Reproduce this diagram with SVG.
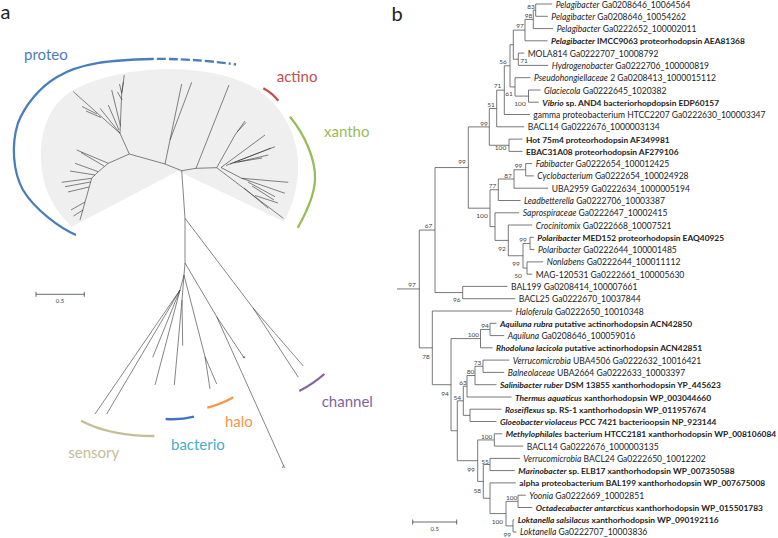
<svg xmlns="http://www.w3.org/2000/svg" width="778" height="538" viewBox="0 0 778 538">
<style>
.pl{font-family:Lato,"Liberation Sans",sans-serif;font-size:20px;fill:#222}
.lf{font-family:Lato,"Liberation Sans",sans-serif;font-size:8.55px;fill:#222}
.b{font-weight:bold;font-size:8.4px}
.i{font-style:italic}
.bs{font-family:Lato,"Liberation Sans",sans-serif;font-size:6.5px;fill:#444;text-anchor:middle}
.tr{fill:none;stroke:#555;stroke-width:0.8}
.at{fill:none;stroke:#333;stroke-width:0.6}
.arc{fill:none;stroke-width:2.3;stroke-linecap:butt}
.cl{font-family:Lato,"Liberation Sans",sans-serif;font-size:15px}
.sc{fill:none;stroke:#444;stroke-width:0.8}
.st{font-family:Lato,"Liberation Sans",sans-serif;font-size:6px;fill:#444;text-anchor:middle}
</style>
<rect width="778" height="538" fill="#fff"/>
<text class="pl" x="0.5" y="18.5">a</text>
<text class="pl" x="391.5" y="20.5">b</text>

<!-- Panel a -->
<g id="panel-a">
<path id="wedge" d="M71.7 226.7 L178 171 L284 221.5 C293 205 299 185 298 160 C296 130 280 105 258 90 C235 75 200 69 166 69 C130 70 95 77 70 92 C50 105 40 130 41 160 C42 190 55 210 71.7 226.7 Z" fill="#efefef"/>
<g id="a-connectors" class="at">
<path d="M181.7 170.7 L165 164 L129.3 154 M165 164 L181.7 84 M170 140 L191.7 82.3 M181.7 170.7 L196 168.3 L216.7 167.7 M196 168.3 L229 85 M181.7 170.7 L185 218.3 L185 263 L184 275 M185 218.3 L253.3 308.3 L303.3 366 M253.3 308.3 L298.3 377.3"/>
<path d="M129.3 154 L120 133.3 M120 133.3 L121.7 93.3 L124.3 75 M121.7 93.3 L119.5 84 M121.7 93.3 L123.5 82 M122 100 L117.5 92 M120 133.3 L73.3 91.7 M97 114 L82 106.5 M101 117.5 L86 111 M120 133.3 L100 108.3 M119 130 L108.3 105 M120.5 126 L111.7 90"/>
<path d="M129.3 154 L108.3 163.3 L98.3 171.7 L91.7 178.3 L80 220 M108.3 163.3 L76.7 150 M104 166 L81 152.5 M98.3 171.7 L75 163.3 M95 175 L70 171 M91.7 178.3 L61.7 182.3 M90.5 182 L65 186.7 M89 187 L68 192 M85 202 L71 210 M83 210 L73.5 216"/>
<path d="M216.7 167.7 L235 135 L245 121 M237 132 L246 122.5 M221 167.5 L265 135 M226 165.5 L275 146.7 M230 164 L271 148 M234 163 L268.3 155 M238 162 L262 158 M221 167.5 L241.7 178.3 L288.3 182.3 M241.7 178.3 L285 193.3 M248 182 L275 196.7 M252 186 L274 200 M216.7 167.7 L283.3 218.3 M244 188 L268.3 208.3 M255 195.5 L278 203"/>
<path d="M185 263 L216.7 316.7 L243.3 356.7 M216.7 316.7 L283.3 465 M184 275 L180 290 L95 414 M180 290 L106.7 414 M180 290 L152.7 357.3 M180 290 L155 385 M184 275 L182 300 L182.7 345.7 M182 300 L174.3 385 M184 275 L205 356.7 L210 389 M205 356.7 L216.7 384"/>
</g>
<text x="244" y="362" style="font-family:Lato,sans-serif;font-size:8px;fill:#333" text-anchor="middle">*</text>
<text x="283.5" y="471" style="font-family:Lato,sans-serif;font-size:7px;fill:#333" text-anchor="middle">^</text>
<g id="proteo">
<path class="arc" stroke="#4a7ebb" d="M76 235 C60 228 35 210 23 190 C13 172 11 145 18 123 C25 105 40 87 57 77 C80 63 110 60 152 59"/>
<path class="arc" stroke="#4a7ebb" stroke-dasharray="2 3 9 3 9 3 9 3 9 3 9 3 9 3" d="M152 59 C175 58.5 205 60 236 64.5"/>
<text class="cl" x="24" y="60" fill="#4a7ebb">proteo</text>
</g>
<g id="actino">
<path class="arc" stroke="#c0504d" d="M263.3 88.3 Q272 93 278.3 100.7"/>
<text class="cl" x="276.7" y="81.7" fill="#c0504d">actino</text>
</g>
<g id="xantho">
<path class="arc" stroke="#9bbb59" d="M290 116.7 C305 135 316 160 315 180 C314 198 305 215 297.7 227.7"/>
<text class="cl" x="324" y="136.5" fill="#9bbb59">xantho</text>
</g>
<g id="channel">
<path class="arc" stroke="#8064a2" d="M299.3 391 Q313 384 324.3 374"/>
<text class="cl" x="321.7" y="406.5" fill="#8064a2">channel</text>
</g>
<g id="halo">
<path class="arc" stroke="#f79646" d="M207.3 407.7 Q222 404 233.3 397.3"/>
<text class="cl" x="225" y="426.5" fill="#f79646">halo</text>
</g>
<g id="bacterio">
<path class="arc" stroke="#4472c4" d="M165.7 419 Q181 420 194 416.7"/>
<text class="cl" x="171" y="449.5" fill="#4bacc6">bacterio</text>
</g>
<g id="sensory">
<path class="arc" stroke="#c4bd97" d="M81 420.7 Q110 436 154.3 436"/>
<text class="cl" x="68.3" y="457.5" fill="#c4bd97">sensory</text>
</g>
<g id="scale-a">
<path class="sc" d="M36 294.3 H84.3 M36 291.8 V296.8 M84.3 291.8 V296.8"/>
<text class="st" x="60" y="303">0.5</text>
</g>
</g>

<!-- Panel b -->
<g id="b-connectors" class="tr">
<path d="M535.7 4V16.3 M533.3 10.15V28.6 M525 19.4V40.8 M518.3 53.1V65.4 M513.3 30.1V59.25 M528.5 90V102.2 M515 77.7V96.1 M510 44.7V86.9 M504.3 65.8V114.5 M496.7 90.15V126.8 M509 139.1V151.4 M489.3 108.5V145.25 M525.7 163.6V175.9 M514 169.75V188.2 M498.3 179V200.5 M530 237.3V249.6 M527 261.9V274.2 M523 243.45V268.05 M508.3 225V255.75 M495 212.8V240.4 M490 189.75V226.6 M468.3 126.9V208.2 M462.7 286.4V298.7 M435 167.55V292.55 M490 323.3V335.6 M480.5 329.45V347.8 M483 360.1V372.4 M475 366.25V384.7 M467 375.5V397 M470 409.2V421.5 M463.3 386.25V415.35 M494.3 433.8V446.1 M490 458.4V470.6 M518 495.2V507.5 M513 519.8V532 M506 501.35V525.9 M490 482.9V513.6 M483.3 464.5V498.25 M477.7 439.95V481.4 M457.3 400.8V460.7 M451 338.6V430.75 M432.3 311V384.7 M419.3 230.05V347.85"/>
<path d="M535.7 4H552.2 M535.7 16.3H547.8 M533.3 28.6H553.2 M525 40.8H547.5 M518.3 53.1H524.2 M518.3 65.4H548.2 M515 77.7H530.5 M528.5 90H540.5 M528.5 102.2H538.8 M504.3 114.5H529.8 M496.7 126.8H524.2 M509 139.1H522.5 M509 151.4H522.5 M525.7 163.6H532.2 M525.7 175.9H533.8 M514 188.2H548.2 M498.3 200.5H520.5 M495 212.8H519.2 M508.3 225H532.2 M530 237.3H533.8 M530 249.6H534.5 M527 261.9H543.2 M527 274.2H532.2 M462.7 286.4H507.5 M462.7 298.7H515.2 M432.3 311H512.2 M490 323.3H496.5 M490 335.6H504.2 M480.5 347.8H492.5 M483 360.1H509.2 M483 372.4H504.2 M475 384.7H496.5 M467 397H511.5 M470 409.2H501.5 M470 421.5H496.5 M494.3 433.8H502.2 M494.3 446.1H523.2 M490 458.4H519.8 M490 470.6H514.8 M490 482.9H515.8 M518 495.2H525.8 M518 507.5H532.2 M513 519.8H514.2 M513 532H516.5"/>
<path d="M533.3 10.15H535.7 M525 19.4H533.3 M513.3 30.1H525 M513.3 59.25H518.3 M510 44.7H513.3 M510 86.9H515 M515 96.1H528.5 M504.3 65.8H510 M496.7 90.15H504.3 M489.3 108.5H496.7 M489.3 145.25H509 M468.3 126.9H489.3 M514 169.75H525.7 M498.3 179H514 M490 189.75H498.3 M523 243.45H530 M523 268.05H527 M508.3 255.75H523 M495 240.4H508.3 M490 226.6H495 M468.3 208.2H490 M435 167.55H468.3 M435 292.55H462.7 M419.3 230.05H435 M480.5 329.45H490 M451 338.6H480.5 M475 366.25H483 M467 375.5H475 M463.3 386.25H467 M463.3 415.35H470 M457.3 400.8H463.3 M477.7 439.95H494.3 M483.3 464.5H490 M506 501.35H518 M506 525.9H513 M490 513.6H506 M483.3 498.25H490 M477.7 481.4H483.3 M457.3 460.7H477.7 M451 430.75H457.3 M432.3 384.7H451 M419.3 347.85H432.3 M397 288.95H419.3"/>
</g>

<g id="bootstrap">
<text class="bs" x="531" y="8.8">83</text>
<text class="bs" x="528.5" y="17.8">98</text>
<text class="bs" x="520" y="28.3">97</text>
<text class="bs" x="524" y="63.3">71</text>
<text class="bs" x="503" y="64.3">56</text>
<text class="bs" x="497.5" y="88.3">71</text>
<text class="bs" x="509" y="95.8">61</text>
<text class="bs" x="520" y="105.8">100</text>
<text class="bs" x="491" y="107.3">51</text>
<text class="bs" x="484" y="125.6">99</text>
<text class="bs" x="500.5" y="149.8">100</text>
<text class="bs" x="462" y="164.3">99</text>
<text class="bs" x="518.5" y="168.3">99</text>
<text class="bs" x="508" y="178.3">87</text>
<text class="bs" x="492.5" y="188.3">77</text>
<text class="bs" x="482" y="218.3">100</text>
<text class="bs" x="523" y="242.3">99</text>
<text class="bs" x="502" y="251.3">92</text>
<text class="bs" x="516" y="265.8">99</text>
<text class="bs" x="518" y="278.3">50</text>
<text class="bs" x="456.7" y="302.3">96</text>
<text class="bs" x="428.5" y="228.3">67</text>
<text class="bs" x="412" y="287.3">97</text>
<text class="bs" x="426" y="358.8">78</text>
<text class="bs" x="485" y="328.3">94</text>
<text class="bs" x="473.3" y="337.3">100</text>
<text class="bs" x="477.5" y="365.3">73</text>
<text class="bs" x="470.5" y="374.3">80</text>
<text class="bs" x="463" y="385.3">63</text>
<text class="bs" x="445" y="395.6">94</text>
<text class="bs" x="457.3" y="400.3">54</text>
<text class="bs" x="486.7" y="439.3">100</text>
<text class="bs" x="485" y="463.8">55</text>
<text class="bs" x="471" y="471.6">99</text>
<text class="bs" x="477.3" y="493">58</text>
<text class="bs" x="511.7" y="499.6">100</text>
<text class="bs" x="497.3" y="524">100</text>
<text class="bs" x="507.3" y="536.6">99</text>
</g>

<g id="leaves" class="lf">
<text id="l1" x="555.7" y="7.6"><tspan class="i">Pelagibacter</tspan> Ga0208646_10064564</text>
<text id="l2" x="551.3" y="19.8"><tspan class="i">Pelagibacter</tspan> Ga0208646_10054262</text>
<text id="l3" x="556.7" y="32.1"><tspan class="i">Pelagibacter</tspan> Ga0222652_100002011</text>
<text id="l4" class="b" x="551" y="44.3"><tspan class="i">Pelagibacter</tspan> IMCC9063 proteorhodopsin AEA81368</text>
<text id="l5" x="527.7" y="56.6">MOLA814 Ga0222707_10008792</text>
<text id="l6" x="551.7" y="68.9"><tspan class="i">Hydrogenobacter</tspan> Ga0222706_100000819</text>
<text id="l7" x="534" y="81.2"><tspan class="i">Pseudohongiellaceae</tspan> 2 Ga0208413_1000015112</text>
<text id="l8" x="544" y="93.5"><tspan class="i">Glaciecola</tspan> Ga0222645_1020382</text>
<text id="l9" class="b" x="542.3" y="105.7"><tspan class="i">Vibrio</tspan> sp. AND4 bacteriorhopdopsin EDP60157</text>
<text id="l10" x="533.3" y="118">gamma proteobacterium HTCC2207 Ga0222630_100003347</text>
<text id="l11" x="527.7" y="130.3">BACL14 Ga0222676_1000003134</text>
<text id="l12" class="b" x="526" y="142.6">Hot 75m4 proteorhodopsin AF349981</text>
<text id="l13" class="b" x="526" y="154.9">EBAC31A08 proteorhodopsin AF279106</text>
<text id="l14" x="535.7" y="167.1"><tspan class="i">Fabibacter</tspan> Ga0222654_100012425</text>
<text id="l15" x="537.3" y="179.4"><tspan class="i">Cyclobacterium</tspan> Ga0222654_100024928</text>
<text id="l16" x="551.7" y="191.7">UBA2959 Ga0222634_1000005194</text>
<text id="l17" x="524" y="204"><tspan class="i">Leadbetterella</tspan> Ga0222706_10003387</text>
<text id="l18" x="522.7" y="216.3"><tspan class="i">Saprospiraceae</tspan> Ga0222647_10002415</text>
<text id="l19" x="535.7" y="228.5"><tspan class="i">Crocinitomix</tspan> Ga0222668_10007521</text>
<text id="l20" class="b" x="537.3" y="240.8"><tspan class="i">Polaribacter</tspan> MED152 proteorhodopsin EAQ40925</text>
<text id="l21" x="538" y="253.1"><tspan class="i">Polaribacter</tspan> Ga0222644_100001485</text>
<text id="l22" x="546.7" y="265.4"><tspan class="i">Nonlabens</tspan> Ga0222644_100011112</text>
<text id="l23" x="535.7" y="277.7">MAG-120531 Ga0222661_100005630</text>
<text id="l24" x="511" y="289.9">BAL199 Ga0208414_100007661</text>
<text id="l25" x="518.7" y="302.2">BACL25 Ga0222670_10037844</text>
<text id="l26" x="515.7" y="314.5"><tspan class="i">Haloferula</tspan> Ga0222650_10010348</text>
<text id="l27" class="b" x="500" y="326.8"><tspan class="i">Aquiluna rubra</tspan> putative actinorhodopsin ACN42850</text>
<text id="l28" x="507.7" y="339.1"><tspan class="i">Aquiluna</tspan> Ga0208646_100059016</text>
<text id="l29" class="b" x="496" y="351.3"><tspan class="i">Rhodoluna lacicola</tspan> putative actinorhodopsin ACN42851</text>
<text id="l30" x="512.7" y="363.6"><tspan class="i">Verrucomicrobia</tspan> UBA4506 Ga0222632_10016421</text>
<text id="l31" x="507.7" y="375.9"><tspan class="i">Balneolaceae</tspan> UBA2664 Ga0222633_10003397</text>
<text id="l32" class="b" x="500" y="388.2"><tspan class="i">Salinibacter ruber</tspan> DSM 13855 xanthorhodopsin YP_445623</text>
<text id="l33" class="b" x="515" y="400.5"><tspan class="i">Thermus aquaticus</tspan> xanthorhodopsin WP_003044660</text>
<text id="l34" class="b" x="505" y="412.7"><tspan class="i">Roseiflexus</tspan> sp. RS-1 xanthorhodopsin WP_011957674</text>
<text id="l35" class="b" x="500" y="425"><tspan class="i">Gloeobacter violaceus</tspan> PCC 7421 bacterioopsin NP_923144</text>
<text id="l36" class="b" x="505.7" y="437.3" textLength="270.5" lengthAdjust="spacingAndGlyphs"><tspan class="i">Methylophilales</tspan> bacterium HTCC2181 xanthorhodopsin WP_008106084</text>
<text id="l37" x="526.7" y="449.6">BACL14 Ga0222676_1000003135</text>
<text id="l38" x="523.3" y="461.9"><tspan class="i">Verrucomicrobia</tspan> BACL24 Ga0222650_10012202</text>
<text id="l39" class="b" x="518.3" y="474.1"><tspan class="i">Marinobacter</tspan> sp. ELB17 xanthorhodopsin WP_007350588</text>
<text id="l40" class="b" x="519.3" y="486.4">alpha proteobacterium BAL199 xanthorhodopsin WP_007675008</text>
<text id="l41" x="529.3" y="498.7"><tspan class="i">Yoonia</tspan> Ga0222669_10002851</text>
<text id="l42" class="b" x="535.7" y="511"><tspan class="i">Octadecabacter antarcticus</tspan> xanthorhodopsin WP_015501783</text>
<text id="l43" class="b" x="517.7" y="523.3"><tspan class="i">Loktanella salsilacus</tspan> xanthorhodopsin WP_090192116</text>
<text id="l44" x="520" y="535.3"><tspan class="i">Loktanella</tspan> Ga0222707_10003836</text>
</g>

<g id="scale-b">
<path class="sc" d="M412.7 522 H456.7 M412.7 519.5 V524.5 M456.7 519.5 V524.5"/>
<text class="st" x="434.7" y="531">0.5</text>
</g>
</svg>
